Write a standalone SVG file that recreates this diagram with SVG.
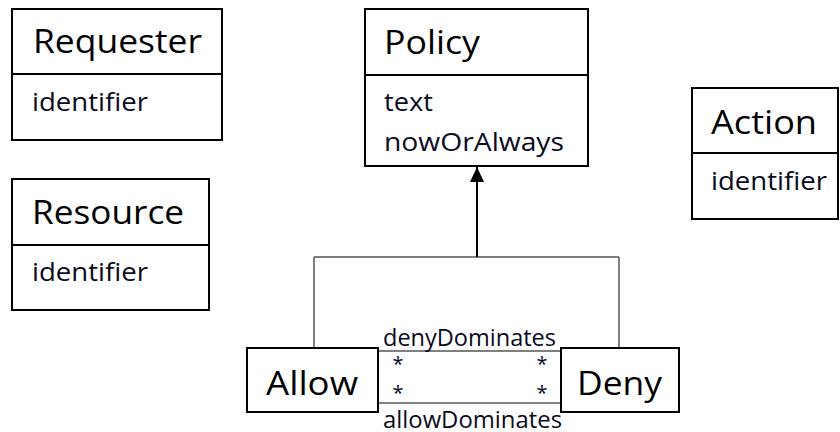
<svg xmlns="http://www.w3.org/2000/svg" width="840" height="432" viewBox="0 0 840 432">
<defs>
<style>
.box{fill:#fff;stroke:#000;stroke-width:2}
.div{stroke:#000;stroke-width:2}
.title{font-family:"Open Sans","Liberation Sans",sans-serif;font-size:32px;fill:#000}
.attr{font-family:"Open Sans","Liberation Sans",sans-serif;font-size:26px;fill:#0a0a1e}
.lbl{font-family:"Open Sans","Liberation Sans",sans-serif;font-size:23px;fill:#0a0a1e}
.star{font-family:"Open Sans","Liberation Sans",sans-serif;font-size:20px;fill:#0a0a1e;text-anchor:middle}
.gen{stroke:#555;stroke-width:1.5;fill:none}
.assoc{stroke:#808080;stroke-width:2;fill:none}
</style>
<marker id="tri" markerUnits="userSpaceOnUse" markerWidth="15" markerHeight="14" refX="15" refY="7" orient="auto">
<path d="M0,0 L15,7 L0,14 z" fill="#000"/>
</marker>
</defs>
<rect width="840" height="432" fill="#fff"/>
<g id="connectors">
<line class="gen" x1="314" y1="257" x2="619" y2="257"/>
<line class="gen" x1="314" y1="257" x2="314" y2="348"/>
<line class="gen" x1="619" y1="257" x2="619" y2="348" stroke="#888" stroke-width="2"/>
<line x1="477" y1="257" x2="477" y2="167" stroke="#000" stroke-width="2" marker-end="url(#tri)"/>
<line class="assoc" x1="378" y1="351" x2="561" y2="351"/>
<line class="assoc" x1="378" y1="403" x2="561" y2="403"/>
<text class="lbl" x="383" y="346" textLength="173" lengthAdjust="spacingAndGlyphs">denyDominates</text>
<text class="lbl" x="383" y="428" textLength="179" lengthAdjust="spacingAndGlyphs">allowDominates</text>
<text class="star" x="398" y="371">*</text>
<text class="star" x="398" y="400">*</text>
<text class="star" x="542" y="371">*</text>
<text class="star" x="542" y="400">*</text>
</g>
<g id="Requester">
<rect class="box" x="12" y="9" width="210" height="131"/>
<line class="div" x1="12" y1="74" x2="222" y2="74"/>
<text class="title" x="33" y="53" textLength="169" lengthAdjust="spacingAndGlyphs">Requester</text>
<text class="attr" x="32" y="111" textLength="116" lengthAdjust="spacingAndGlyphs">identifier</text>
</g>
<g id="Resource">
<rect class="box" x="12" y="179" width="197" height="131"/>
<line class="div" x1="12" y1="245" x2="209" y2="245"/>
<text class="title" x="32" y="224" textLength="152" lengthAdjust="spacingAndGlyphs">Resource</text>
<text class="attr" x="32" y="281" textLength="116" lengthAdjust="spacingAndGlyphs">identifier</text>
</g>
<g id="Policy">
<rect class="box" x="365" y="9" width="223" height="157"/>
<line class="div" x1="365" y1="75" x2="588" y2="75"/>
<text class="title" x="384" y="54" textLength="96" lengthAdjust="spacingAndGlyphs">Policy</text>
<text class="attr" x="384" y="111" textLength="49" lengthAdjust="spacingAndGlyphs">text</text>
<text class="attr" x="384" y="151" textLength="180" lengthAdjust="spacingAndGlyphs">nowOrAlways</text>
</g>
<g id="Action">
<rect class="box" x="692" y="88" width="146" height="131"/>
<line class="div" x1="692" y1="153" x2="838" y2="153"/>
<text class="title" x="711" y="134" textLength="106" lengthAdjust="spacingAndGlyphs">Action</text>
<text class="attr" x="711" y="190" textLength="116" lengthAdjust="spacingAndGlyphs">identifier</text>
</g>
<g id="Allow">
<rect class="box" x="247" y="348" width="131" height="64"/>
<text class="title" x="266" y="395" textLength="92" lengthAdjust="spacingAndGlyphs">Allow</text>
</g>
<g id="Deny">
<rect class="box" x="561" y="348" width="118" height="64"/>
<text class="title" x="577" y="395" textLength="85" lengthAdjust="spacingAndGlyphs">Deny</text>
</g>
</svg>
